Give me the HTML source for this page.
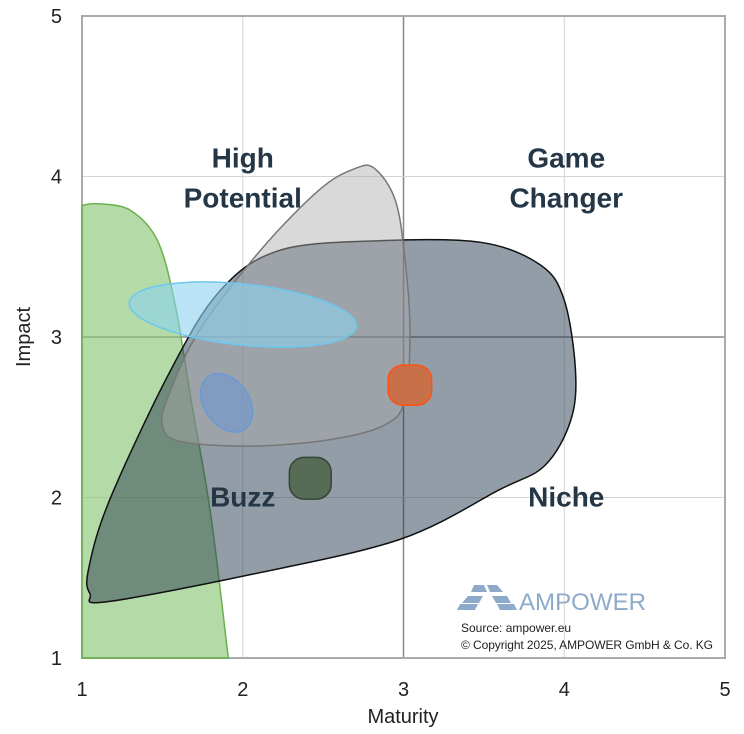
<!DOCTYPE html>
<html><head><meta charset="utf-8"><style>
body{margin:0;background:#fff;}
svg{display:block;font-family:"Liberation Sans",Arial,sans-serif;}
</style></head><body>
<svg id="chart" width="744" height="734">
<g id="grid"></g><g id="shapes"></g><g id="labels"></g>
</svg>
<script>
const xTicks=[1,2,3,4,5];
const yTicks=[1,2,3,4,5];
const greenShape=[[1,1],[1,3.82],[1.1,3.83],[1.3,3.79],[1.47,3.6],[1.58,3.2],[1.68,2.6],[1.8,1.9],[1.91,1]];
const nicheShape=[[1.04,1.55],[1.17,1.98],[1.55,2.79],[1.86,3.29],[2.23,3.54],[2.85,3.60],[3.48,3.59],[3.85,3.45],[4.00,3.23],[4.07,2.79],[4.04,2.48],[3.88,2.20],[3.60,2.05],[2.98,1.74],[2.05,1.52],[1.15,1.35],[1.05,1.40]];
const grayShape=[[2.82,4.05],[2.95,3.85],[3.01,3.48],[3.04,3.04],[3.01,2.61],[2.88,2.45],[2.54,2.36],[2.05,2.32],[1.61,2.35],[1.50,2.45],[1.54,2.64],[1.73,3.04],[2.11,3.54],[2.48,3.92],[2.70,4.05]];
const lightBlueEllipse=[2.00,3.14,0.71,0.19,6];
const blueEllipse=[1.90,2.59,0.14,0.20,-35];
const orangeBox=[3.04,2.70,0.27,0.25];
const darkGreenBox=[2.42,2.12,0.26,0.26];
const quadrantLabels=[["High","Potential",2,4.0],["Game","Changer",4,4.0],["Buzz","",2,2.0],["Niche","",4,2.0]];

const X=v=>82+(v-1)*160.75, Y=v=>658-(v-1)*160.5;
const NS='http://www.w3.org/2000/svg';
function mk(tag,attrs,parent){const e=document.createElementNS(NS,tag);for(const k in attrs)e.setAttribute(k,attrs[k]);parent.appendChild(e);return e;}
const grid=document.getElementById('grid'),shapes=document.getElementById('shapes'),labels=document.getElementById('labels');
xTicks.forEach(t=>{
 const l=mk('line',{x1:X(t),x2:X(t),y1:Y(5),y2:Y(1),stroke:t===3?'#888':'#d4d4d4','stroke-width':t===3?1.5:1},grid);
 
 
 const tx=mk('text',{x:X(t),y:696,'text-anchor':'middle','font-size':20,fill:'#222'},labels);tx.textContent=t;
 
 
});
yTicks.forEach(t=>{
 const l=mk('line',{x1:X(1),x2:X(5),y1:Y(t),y2:Y(t),stroke:t===3?'#888':'#d4d4d4','stroke-width':t===3?1.5:1},grid);
 
 
 const tx=mk('text',{x:62,y:Y(t)+7,'text-anchor':'end','font-size':20,fill:'#222'},labels);tx.textContent=t;
 
 
});
const fr=mk('rect',{x:X(1),y:Y(5),width:X(5)-X(1),height:Y(1)-Y(5),fill:'none',stroke:'#aaa','stroke-width':2},grid);



function smooth(pts,closed){
 const p=pts.map(a=>[X(a[0]),Y(a[1])]);const n=p.length;let d='M'+p[0][0]+','+p[0][1];
 const last=closed?n:n-1;
 for(let i=0;i<last;i++){
  const p0=p[(i-1+n)%n],p1=p[i],p2=p[(i+1)%n],p3=p[(i+2)%n];
  const a=closed||i>0?p0:p1, b=closed||i+2<n?p3:p2;
  d+=` C${p1[0]+(p2[0]-a[0])/6},${p1[1]+(p2[1]-a[1])/6} ${p2[0]-(b[0]-p1[0])/6},${p2[1]-(b[1]-p1[1])/6} ${p2[0]},${p2[1]}`;
 }
 return d+'Z';
}
function greenPath(){
 const p=greenShape.map(a=>[X(a[0]),Y(a[1])]);
 let d='M'+p[0][0]+','+p[0][1]+' L'+p[1][0]+','+p[1][1];
 const sub=greenShape.slice(1);
 const s=smooth(sub,false);return d+' '+s.replace(/^M[^ ]+/,'').replace('Z','')+' Z';
}
let e;
e=mk('path',{d:greenPath(),fill:'rgba(140,200,120,0.65)',stroke:'#6ab04c','stroke-width':1.5},shapes);


e=mk('path',{d:smooth(nicheShape,true),fill:'rgba(40,60,80,0.5)',stroke:'#111','stroke-width':1.5},shapes);


e=mk('path',{d:smooth(grayShape,true),fill:'rgba(170,170,170,0.45)',stroke:'#777','stroke-width':1.5},shapes);


function ell(a,fill,stroke,name){
 const cx=X(a[0]),cy=Y(a[1]),rx=a[2]*160.75,ry=a[3]*160.5;
 const el=mk('ellipse',{cx,cy,rx,ry,fill,stroke,'stroke-width':1.5,transform:`rotate(${a[4]} ${cx} ${cy})`},shapes);
 
 
}
ell(lightBlueEllipse,'rgba(140,210,240,0.6)','#6cc8ee','light-blue-ellipse');
ell(blueEllipse,'rgba(110,150,210,0.6)','#6a9ad6','blue-ellipse');
function box(a,fill,stroke,name){
 const x=X(a[0]-a[2]/2),y=Y(a[1]+a[3]/2),w=a[2]*160.75,h=a[3]*160.5;
 const el=mk('rect',{x,y,width:w,height:h,rx:w*0.35,ry:h*0.35,fill,stroke,'stroke-width':1.5},shapes);
 
 
}
box(orangeBox,'#c8704a','#ff5010','orange-area');
box(darkGreenBox,'#566c55','#354535','dark-green-area');
quadrantLabels.forEach(q=>{
 const t=mk('text',{x:X(q[2])+(q[2]===2?0:2),y:q[1]?Y(q[3])-9:Y(q[3])+9,'text-anchor':'middle','font-size':28,'font-weight':'bold',fill:'#253746'},labels);
 
 
 if(q[1]){mk('tspan',{x:t.getAttribute('x'),dy:0},t).textContent=q[0];mk('tspan',{x:t.getAttribute('x'),dy:40},t).textContent=q[1];}
 else t.textContent=q[0];
});
</script>
<div style="position:absolute;left:0;top:0;width:744px;height:734px;pointer-events:none">
<svg width="744" height="734" style="position:absolute;left:0;top:0">
<g fill="#8eaacb">
<polygon points="474,585 484,585 487,592 471,592"/><polygon points="487,585 497,585 503,592 490,592"/>
<polygon points="468,596 483,596 479,603 462,603" /><polygon points="492,596 507,596 511,603 496,603"/>
<polygon points="460,604 478,604 475,610 457,610"/><polygon points="497,604 514,604 517,610 500,610"/>
<text x="519" y="610" font-size="24" font-family="Liberation Sans,sans-serif" textLength="127" lengthAdjust="spacingAndGlyphs">AMPOWER</text>
</g>
<text x="461" y="632" font-size="12" fill="#222" font-family="Liberation Sans,sans-serif">Source: ampower.eu</text>
<text x="461" y="649" font-size="12" fill="#222" font-family="Liberation Sans,sans-serif" textLength="252">© Copyright 2025, AMPOWER GmbH &amp; Co. KG</text>
<text x="403" y="723" font-size="20" text-anchor="middle" fill="#222" font-family="Liberation Sans,sans-serif">Maturity</text>
<text x="30" y="337" font-size="20" text-anchor="middle" fill="#222" font-family="Liberation Sans,sans-serif" transform="rotate(-90 30 337)">Impact</text>
</svg></div>
</body></html>
